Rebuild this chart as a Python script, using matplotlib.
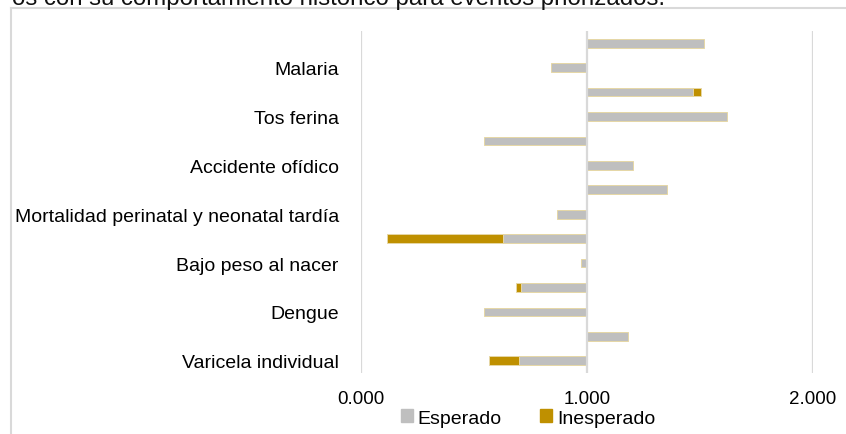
import numpy as np
import matplotlib
matplotlib.use("Agg")
import matplotlib.pyplot as plt
from matplotlib.patches import Patch
from matplotlib.lines import Line2D

plt.rcParams["font.family"] = ["Liberation Sans", "DejaVu Sans"]

GRAY = "#BFBFBF"
GOLD = "#BF9000"
EDGE = "#E6D7A6"
GRID = "#D9D9D9"

# filas de arriba hacia abajo (Excel solo muestra una etiqueta de cada dos)
categorias = ["", "Malaria", "", "Tos ferina", "", "Accidente ofídico", "",
              "Mortalidad perinatal y neonatal tardía", "", "Bajo peso al nacer", "",
              "Dengue", "", "Varicela individual"]
esperado = [1.518, 0.840, 1.470, 1.620, 0.544, 1.202, 1.352,
            0.868, 0.630, 0.975, 0.708, 0.544, 1.180, 0.700]
inesperado = [np.nan, np.nan, 1.505, np.nan, np.nan, np.nan, np.nan,
              np.nan, 0.114, np.nan, 0.686, np.nan, np.nan, 0.565]
ticks = [0.0, 1.0, 2.0]
tick_lbl = ["0.000", "1.000", "2.000"]

W, H = 846, 435
fig = plt.figure(figsize=(W / 100, H / 100), dpi=100)
ax = fig.add_axes([361 / W, 1 - 374 / H, (813 - 361) / W, (374 - 32) / H])

y = np.arange(len(categorias))
esp = np.array(esperado)
ine = np.array(inesperado)
ax.barh(y, esp - 1, left=1, height=0.36, color=GRAY, edgecolor=EDGE, lw=0.7, zorder=2)
m = ~np.isnan(ine)
ax.barh(y[m], ine[m] - esp[m], left=esp[m], height=0.36, color=GOLD,
        edgecolor=EDGE, lw=0.7, zorder=2)

ax.set_xlim(0, 2)
ax.set_ylim(len(categorias) - 0.5, -0.5)
for t in ticks:
    ax.axvline(t, color=GRID, lw=1.6, zorder=3 if t == 1 else 1)

ax.set_xticks(ticks)
ax.set_xticklabels(tick_lbl, fontsize=13.5)
ax.set_yticks(y)
ax.set_yticklabels(categorias, fontsize=14)
ax.tick_params(axis="x", length=0, pad=12)
ax.tick_params(axis="y", length=0, pad=16)
for s in ax.spines.values():
    s.set_visible(False)

# marco del gráfico
fig.add_artist(Line2D([11 / W, 11 / W], [0, 1 - 9 / H], color=GRID, lw=1.5))
fig.add_artist(Line2D([11 / W, 1], [1 - 9 / H, 1 - 9 / H], color=GRID, lw=1.5))

# texto del párrafo, cortado arriba como en el original
fig.text(12 / W, 1 - 5.5 / H, "os con su comportamiento histórico para eventos priorizados.",
         fontsize=17.3, va="baseline", ha="left", color="#111111")

handles = [Patch(color=GRAY, label="Esperado"), Patch(color=GOLD, label="Inesperado")]
fig.legend(handles=handles, loc="center", bbox_to_anchor=(528 / W, 1 - 419 / H),
           ncol=2, frameon=False, fontsize=14, handlelength=0.6, handleheight=0.6,
           handletextpad=0.25, columnspacing=2.0, borderpad=0)

fig.savefig("out.png", dpi=100, facecolor="white")
